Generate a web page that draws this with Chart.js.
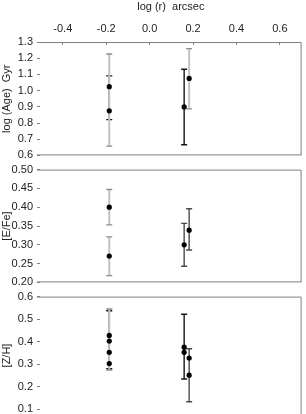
<!DOCTYPE html>
<html>
<head>
<meta charset="utf-8">
<script src="https://cdn.jsdelivr.net/npm/chart.js@4.4.1/dist/chart.umd.min.js"></script>
<style>
  html, body { margin: 0; padding: 0; background: #fff; width: 306px; height: 414px; overflow: hidden; }
  canvas { position: absolute; left: 0; }
</style>
</head>
<body>
<canvas id="ageChart" width="306" height="166" style="top:0"></canvas>
<canvas id="efeChart" width="306" height="134" style="top:159px"></canvas>
<canvas id="zhChart" width="306" height="139" style="top:286px"></canvas>
<script>
// x axis: log radius
const xTicks = [-0.4, -0.2, 0.0, 0.2, 0.4, 0.6];

// log(Age) panel
const ageTicks = [0.6, 0.7, 0.8, 0.9, 1.0, 1.1, 1.2, 1.3];
const ageX = [-0.186, -0.186, 0.159, 0.182];
const ageY = [1.024, 0.875, 0.899, 1.075];
const ageBarX = [-0.186, -0.186, 0.159, 0.182];
const ageBarLo = [0.821, 0.657, 0.666, 0.887];
const ageBarHi = [1.091, 1.226, 1.132, 1.259];

// [E/Fe] panel
const efeTicks = [0.20, 0.25, 0.30, 0.35, 0.40, 0.45, 0.50];
const efeX = [-0.186, -0.186, 0.159, 0.182];
const efeY = [0.400, 0.270, 0.300, 0.339];
const efeBarX = [-0.186, -0.186, 0.159, 0.182];
const efeBarLo = [0.353, 0.218, 0.243, 0.286];
const efeBarHi = [0.447, 0.321, 0.357, 0.396];

// [Z/H] panel (bottom edge runs past the picture)
const zhTicks = [0.1, 0.2, 0.3, 0.4, 0.5, 0.6];
const zhMin = 0.078;
const zhX = [-0.186, -0.186, -0.186, -0.186, 0.159, 0.159, 0.182, 0.182];
const zhY = [0.428, 0.403, 0.353, 0.303, 0.376, 0.353, 0.328, 0.252];
const zhBarX = [-0.186, -0.186, 0.159, 0.182];
const zhBarLo = [0.280, 0.275, 0.235, 0.134];
const zhBarHi = [0.537, 0.545, 0.522, 0.369];

// styles
const FONT = { family: '"Liberation Sans", Arial, sans-serif', size: 11 };
const TEXT = '#222';
const AXIS = '#808080';
const shadeStyle = {
  light: { line: '#c2c2c2', cap: '#8c8c8c', width: 2, order: 1 },
  mid:   { line: '#4a4a4a', cap: '#4a4a4a', width: 1.4, order: 2 },
  dark:  { line: '#151515', cap: '#151515', width: 1.4, order: 2 }
};
const ageShade = ['dark', 'light', 'dark', 'light'];
const efeShade = ['light', 'light', 'mid', 'mid'];
const zhShade = ['dark', 'light', 'dark', 'mid'];

// box round each panel: top, right and (optionally) bottom, no left line
const frame = {
  id: 'frame',
  defaults: { bottom: true },
  beforeDatasetsDraw(chart, args, opts) {
    const { ctx, chartArea: a } = chart;
    ctx.save();
    ctx.strokeStyle = AXIS;
    ctx.lineWidth = 1;
    ctx.beginPath();
    ctx.moveTo(a.left - 3, a.top + 0.5);
    ctx.lineTo(a.right - 0.5, a.top + 0.5);
    ctx.lineTo(a.right - 0.5, a.bottom);
    if (opts.bottom) {
      ctx.moveTo(a.right - 0.5, a.bottom - 0.5);
      ctx.lineTo(a.left - 3, a.bottom - 0.5);
    }
    ctx.stroke();
    ctx.restore();
  }
};

function errorBars(xs, lo, hi, shades) {
  return xs.map((x, i) => {
    const s = shadeStyle[shades[i]];
    return {
      type: 'line',
      data: [{ x: x, y: lo[i] }, { x: x, y: hi[i] }],
      borderColor: s.line,
      borderWidth: s.width,
      pointStyle: 'line',
      pointRadius: 3,
      pointHoverRadius: 3,
      pointBorderColor: s.cap,
      pointBorderWidth: 1.4,
      order: s.order
    };
  });
}

function dots(xs, ys) {
  return {
    type: 'scatter',
    data: xs.map((x, i) => ({ x: x, y: ys[i] })),
    pointRadius: 2.6,
    backgroundColor: '#000',
    borderColor: '#000',
    borderWidth: 0,
    order: 0
  };
}

function yAxis(ticks, digits, title, min) {
  return {
    min: min !== undefined ? min : ticks[0],
    max: ticks[ticks.length - 1],
    afterFit: s => { s.width = 40; },
    afterBuildTicks: s => { s.ticks = ticks.map(v => ({ value: v })); },
    ticks: { callback: v => v.toFixed(digits), color: TEXT, font: FONT, padding: 4 },
    grid: { drawOnChartArea: false, tickLength: 3, color: AXIS },
    border: { display: false },
    title: { display: true, text: title, color: TEXT, font: FONT, padding: 0 }
  };
}

function xAxis(top) {
  const ax = {
    type: 'linear',
    min: -0.505,
    max: 0.7,
    display: top
  };
  if (top) {
    Object.assign(ax, {
      position: 'top',
      afterFit: s => { s.height = 42; },
      afterBuildTicks: s => { s.ticks = xTicks.map(v => ({ value: v })); },
      ticks: { callback: v => v.toFixed(1), color: TEXT, font: FONT, padding: 9, maxRotation: 0, autoSkip: false },
      grid: { drawOnChartArea: false, tickLength: -3, color: AXIS },
      border: { display: false },
      title: { display: true, text: 'log (r)  arcsec', color: TEXT, font: FONT, padding: 0 }
    });
  }
  return ax;
}

function panel(id, datasets, y, top, bottomLine) {
  new Chart(document.getElementById(id), {
    type: 'scatter',
    data: { datasets: datasets },
    options: {
      responsive: false,
      animation: false,
      layout: { padding: { top: top ? 0 : 10, bottom: 10, left: 0, right: 1 } },
      plugins: {
        legend: { display: false },
        tooltip: { enabled: false },
        frame: { bottom: bottomLine }
      },
      scales: { x: xAxis(top), y: y }
    },
    plugins: [frame]
  });
}

panel('ageChart',
  [dots(ageX, ageY)].concat(errorBars(ageBarX, ageBarLo, ageBarHi, ageShade)),
  yAxis(ageTicks, 1, 'log (Age)  Gyr'), true, true);

panel('efeChart',
  [dots(efeX, efeY)].concat(errorBars(efeBarX, efeBarLo, efeBarHi, efeShade)),
  yAxis(efeTicks, 2, '[E/Fe]'), false, true);

panel('zhChart',
  [dots(zhX, zhY)].concat(errorBars(zhBarX, zhBarLo, zhBarHi, zhShade)),
  yAxis(zhTicks, 1, '[Z/H]', zhMin), false, false);
</script>
</body>
</html>
